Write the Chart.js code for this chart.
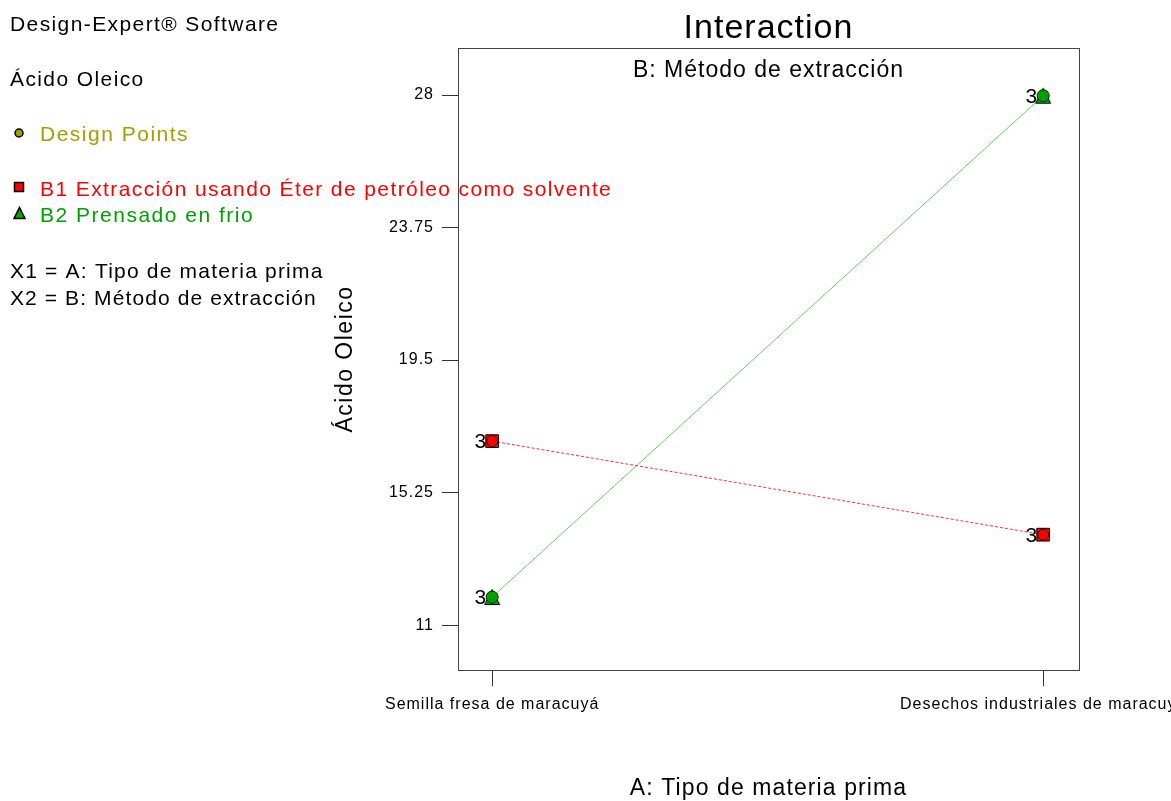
<!DOCTYPE html>
<html>
<head>
<meta charset="utf-8">
<script src="https://cdn.jsdelivr.net/npm/chart.js@4/dist/chart.umd.min.js"></script>
<style>
  html, body { margin: 0; padding: 0; background: #fff; }
  #wrap { position: relative; width: 1171px; height: 801px; }
</style>
</head>
<body>
<div id="wrap"><canvas id="c" width="1171" height="801"></canvas></div>
<script>
// Factor A levels (x axis) and factor B series
const categories = ['Semilla fresa de maracuyá', 'Desechos industriales de maracuyá'];
const b1Values = [16.90, 13.90];   // B1 Extracción usando Éter de petróleo como solvente
const b2Values = [11.90, 27.98];   // B2 Prensado en frio
const b1Replicates = [3, 3];
const b2Replicates = [3, 3];
const yTicks = [11, 15.25, 19.5, 23.75, 28];

const FONT = "'Liberation Sans', Arial, Helvetica, sans-serif";
const RED = '#ff0000';
const GREEN = '#00a000';
const OLIVE = '#a0a000';

const pts = vals => vals.map((v, i) => ({ x: i, y: v }));

// Triangle marker for the B2 means, sitting slightly low under the design point
function triangleMarker() {
  const c = document.createElement('canvas');
  c.width = 22; c.height = 22;
  const g = c.getContext('2d');
  g.fillStyle = GREEN;
  g.strokeStyle = '#000';
  g.lineWidth = 1;
  g.beginPath();
  g.moveTo(11, 3.5);
  g.lineTo(18.5, 18.5);
  g.lineTo(3.5, 18.5);
  g.closePath();
  g.fill();
  g.stroke();
  return c;
}

function spacedText(ctx, text, x, y, font, color, align, spacing) {
  ctx.font = font;
  ctx.fillStyle = color;
  ctx.textAlign = align || 'left';
  ctx.textBaseline = 'alphabetic';
  ctx.letterSpacing = (spacing || 0) + 'px';
  ctx.fillText(text, x, y);
  ctx.letterSpacing = '0px';
}

const decorations = {
  id: 'decorations',
  beforeDraw(chart) {
    chart.ctx.letterSpacing = '1px';
  },
  afterDraw(chart) {
    const ctx = chart.ctx;
    const a = chart.chartArea;
    ctx.save();
    ctx.letterSpacing = '0px';

    // plot frame
    ctx.strokeStyle = '#444';
    ctx.lineWidth = 1;
    ctx.strokeRect(Math.round(a.left) + 0.5, Math.round(a.top) + 0.5,
                   Math.round(a.right - a.left), Math.round(a.bottom - a.top));

    const cx = (a.left + a.right) / 2;
    // titles
    spacedText(ctx, 'Interaction', cx, 38, '34px ' + FONT, '#000', 'center', 1);
    spacedText(ctx, 'B: Método de extracción', cx, 77, '23px ' + FONT, '#000', 'center', 1);
    spacedText(ctx, 'A: Tipo de materia prima', cx, 795, '23px ' + FONT, '#000', 'center', 1.1);

    // y axis title
    ctx.save();
    ctx.translate(352, (a.top + a.bottom) / 2);
    ctx.rotate(-Math.PI / 2);
    spacedText(ctx, 'Ácido Oleico', 0, 0, '23px ' + FONT, '#000', 'center', 1.5);
    ctx.restore();

    // replicate counts beside the design points
    const counts = [b1Replicates, b2Replicates];
    [0, 1].forEach(k => {
      const meta = chart.getDatasetMeta(k);
      meta.data.forEach((el, i) => {
        spacedText(ctx, String(counts[k][i]), el.x - 6, el.y + 7, '21px ' + FONT, '#000', 'right', 0);
      });
    });

    // side annotations
    const side = '21px ' + FONT;
    spacedText(ctx, 'Design-Expert® Software', 10, 31, side, '#000', 'left', 1.4);
    spacedText(ctx, 'Ácido Oleico', 10, 86, side, '#000', 'left', 1.4);
    spacedText(ctx, 'Design Points', 40, 141, side, OLIVE, 'left', 1.5);
    spacedText(ctx, 'B1 Extracción usando Éter de petróleo como solvente', 40, 196, side, RED, 'left', 1.4);
    spacedText(ctx, 'B2 Prensado en frio', 40, 222, side, GREEN, 'left', 1.5);
    spacedText(ctx, 'X1 = A: Tipo de materia prima', 10, 278, side, '#000', 'left', 1.2);
    spacedText(ctx, 'X2 = B: Método de extracción', 10, 305, side, '#000', 'left', 1.1);

    // legend symbols
    ctx.lineWidth = 1.5;
    ctx.strokeStyle = '#000';
    ctx.fillStyle = OLIVE;
    ctx.beginPath(); ctx.arc(19, 133, 4, 0, Math.PI * 2); ctx.fill(); ctx.stroke();
    ctx.fillStyle = RED;
    ctx.fillRect(14.5, 182.5, 9, 9); ctx.strokeRect(14.5, 182.5, 9, 9);
    ctx.fillStyle = GREEN;
    ctx.beginPath(); ctx.moveTo(19.5, 207.5); ctx.lineTo(25, 218.5); ctx.lineTo(14, 218.5); ctx.closePath();
    ctx.fill(); ctx.stroke();

    ctx.restore();
  }
};

const axisColor = '#333';

new Chart(document.getElementById('c'), {
  type: 'scatter',
  data: {
    datasets: [
      { // design points, B1 (top-most)
        data: pts(b1Values), showLine: false, order: 0,
        pointStyle: 'circle', pointRadius: 5.5, pointBackgroundColor: RED,
        pointBorderColor: '#3a0000', pointBorderWidth: 1
      },
      { // design points, B2
        data: pts(b2Values), showLine: false, order: 0,
        pointStyle: 'circle', pointRadius: 6, pointBackgroundColor: GREEN,
        pointBorderColor: '#002800', pointBorderWidth: 1
      },
      { // interaction line, B1
        data: pts(b1Values), showLine: true, order: 2,
        borderColor: '#ff3030', borderWidth: 1, borderDash: [3, 2],
        pointStyle: 'rect', pointRadius: 9, pointBackgroundColor: RED,
        pointBorderColor: '#000', pointBorderWidth: 1
      },
      { // interaction line, B2
        data: pts(b2Values), showLine: true, order: 2,
        borderColor: '#66d066', borderWidth: 1,
        pointStyle: triangleMarker(), pointRadius: 9
      }
    ]
  },
  options: {
    responsive: false,
    animation: false,
    events: [],
    layout: { padding: { left: 358, top: 48, right: 92, bottom: 71 } },
    plugins: { legend: { display: false }, title: { display: false }, tooltip: { enabled: false } },
    scales: {
      x: {
        type: 'linear', min: -0.062, max: 1.065,
        afterBuildTicks: s => { s.ticks = categories.map((_, i) => ({ value: i })); },
        afterFit: s => { s.height = 60; s.paddingLeft = 0; s.paddingRight = 0; },
        ticks: {
          autoSkip: false, maxRotation: 0, padding: 9, color: '#000',
          font: { family: FONT, size: 16 },
          callback: v => categories[v]
        },
        grid: { drawOnChartArea: false, drawTicks: true, tickLength: 16, color: axisColor },
        border: { display: true, color: axisColor }
      },
      y: {
        min: 9.56, max: 29.51,
        afterBuildTicks: s => { s.ticks = yTicks.map(v => ({ value: v })); },
        afterFit: s => { s.width = 100; s.paddingTop = 0; s.paddingBottom = 0; },
        ticks: {
          padding: 8, color: '#000',
          font: { family: FONT, size: 16 },
          callback: v => String(v)
        },
        grid: { drawOnChartArea: false, drawTicks: true, tickLength: 16, color: axisColor },
        border: { display: true, color: axisColor }
      }
    }
  },
  plugins: [decorations]
});
</script>
</body>
</html>
